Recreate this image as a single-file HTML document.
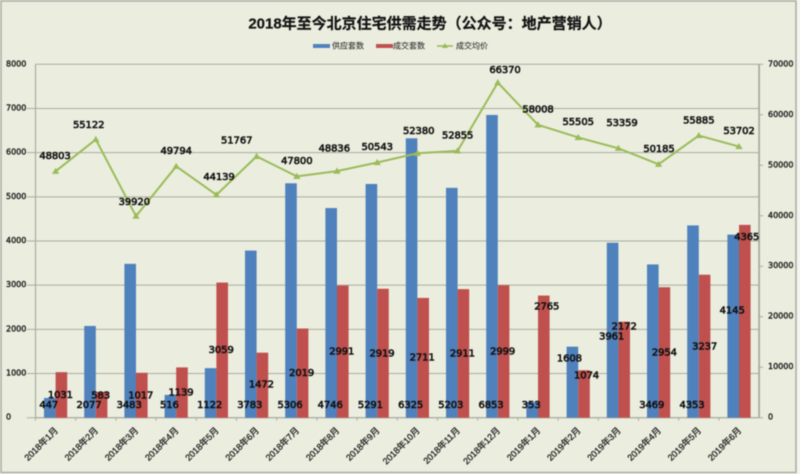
<!DOCTYPE html>
<html>
<head>
<meta charset="utf-8">
<title>2018年至今北京住宅供需走势</title>
<style>
html,body{margin:0;padding:0;background:#f4f5ee;width:800px;height:474px;overflow:hidden}
svg{display:block;filter:blur(0.4px)}
text{font-family:"Liberation Sans","Noto Sans CJK SC",sans-serif}
.val{font-family:"DejaVu Sans",sans-serif;font-size:10px;letter-spacing:-.1px;fill:#111;stroke:#111;stroke-width:.6px;text-anchor:middle;dominant-baseline:central}
.tick{font-family:"DejaVu Sans",sans-serif;font-size:8px;fill:#222;stroke:#222;stroke-width:.4px;dominant-baseline:central}
.cat{font-size:9px;font-weight:400;fill:#222;stroke:#222;stroke-width:.3px;text-anchor:end}
.leg{font-size:8px;fill:#333;stroke:#333;stroke-width:.1px;dominant-baseline:central}
</style>
</head>
<body>
<svg id="chart" xmlns="http://www.w3.org/2000/svg" width="800" height="474" viewBox="0 0 800 474">
  <rect x="1" y="1" width="795" height="471.5" fill="#ebeedf" stroke="#a9aba2" stroke-width="1.5"/>
  <text x="430" y="24" text-anchor="middle" dominant-baseline="central" font-size="15" font-weight="700" fill="#111" stroke="#111" stroke-width=".2">2018年至今北京住宅供需走势（公众号：地产营销人）</text>
  <g>
    <g>
      <rect x="313" y="44" width="17" height="4" fill="#4f81bd"/>
      <text class="leg" x="332" y="46">供应套数</text>
    </g>
    <g>
      <rect x="376" y="44" width="17" height="4" fill="#c0504d"/>
      <text class="leg" x="393" y="46">成交套数</text>
    </g>
    <g>
      <line x1="437" y1="46" x2="453" y2="46" stroke="#9bbb59" stroke-width="1.6"/>
      <polygon points="445,43 448,48 442,48" fill="#9bbb59"/>
      <text class="leg" x="456" y="46">成交均价</text>
    </g>
  </g>
  <g id="plot"></g>
</svg>
<script>
// ---- chart data ----
const categories = ["2018年1月","2018年2月","2018年3月","2018年4月","2018年5月","2018年6月","2018年7月","2018年8月","2018年9月","2018年10月","2018年11月","2018年12月","2019年1月","2019年2月","2019年3月","2019年4月","2019年5月","2019年6月"];
const supplyValues = [447,2077,3483,516,1122,3783,5306,4746,5291,6325,5203,6853,353,1608,3961,3469,4353,4145];
const soldValues = [1031,583,1017,1139,3059,1472,2019,2991,2919,2711,2911,2999,2765,1074,2172,2954,3237,4365];
const priceValues = [48803,55122,39920,49794,44139,51767,47800,48836,50543,52380,52855,66370,58008,55505,53359,50185,55885,53702];
const leftTicks = [0,1000,2000,3000,4000,5000,6000,7000,8000];
const rightTicks = [0,10000,20000,30000,40000,50000,60000,70000];
const leftMax = 8000;
const rightMax = 70000;

// ---- layout ----
const plotLeft = 35.5, plotRight = 759.1, plotTop = 64.3, plotBottom = 417.7;
const step = (plotRight - plotLeft) / categories.length;
const barW = 11.6;
const xCenter = i => plotLeft + step * (i + 0.5);
const yLeft = v => plotBottom - (v / leftMax) * (plotBottom - plotTop);
const yRight = v => plotBottom - (v / rightMax) * (plotBottom - plotTop);

// label placement nudges (layout only, not data)
const supplyLift = [12,12,12,12,12,12,12,12,12,12,12,12,12,58.7,80.7,12,12,106.7];
const soldDrop = [23.5,4,23,25.6,68,32.3,44.8,66.4,65.2,60,64.9,66.8,11.4,5.7,5.2,65.8,72.3,12.8];
const soldShift = [-1,-1,-1,-1,-1,-1,-1,-1,-1,-1,-1,-1,3,2.5,0,0,0,2];
const supplyShift = [-1,-1,-1,-1,-1,-1,-1,-1,-1,-1,-1,-1,-1,-3,-1,-1,-1,-1];
const priceDx = [-0.6,-7.1,-1.7,0,2.6,-19.9,0,-2.7,0,1.3,0,7.2,0,0,3.6,0.4,0,0];
const priceDy = [-14.6,-14.1,-13.5,-15,-17.2,-15.4,-15.1,-22.1,-14.8,-21.6,-14.9,-12,-14.8,-14.8,-25,-15,-14.6,-14.9];

const NS = "http://www.w3.org/2000/svg";
const plot = document.getElementById("plot");
function make(tag, attrs, parent) {
  const el = document.createElementNS(NS, tag);
  for (const k in attrs) el.setAttribute(k, attrs[k]);
  (parent || plot).appendChild(el);
  return el;
}

// gridlines + left axis ticks
leftTicks.forEach(function (t) {
  const y = yLeft(t);
  const g = make("line", {x1: t === leftMax ? plotLeft : 27, x2: plotRight, y1: y, y2: y, stroke: "#a9ab9f", "stroke-width": 1});
  
  
  const lab = make("text", {x: 6, y: y - 0.5, class: "tick"});
  
  
  lab.textContent = t;
});

// right axis ticks
rightTicks.forEach(function (t) {
  const y = yRight(t);
  const g = make("line", {x1: plotRight, x2: plotRight + 4, y1: y, y2: y, stroke: "#a9ab9f", "stroke-width": 1});
  
  
  const lab = make("text", {x: 768, y: y - 0.5, class: "tick"});
  
  
  lab.textContent = t;
});

// axis lines
const leftAxis = make("line", {x1: plotLeft, x2: plotLeft, y1: plotTop, y2: plotBottom, stroke: "#a9ab9f", "stroke-width": 1.2});


const rightAxis = make("line", {x1: plotRight, x2: plotRight, y1: plotTop, y2: plotBottom, stroke: "#a3a59a", "stroke-width": 1.6});



// x ticks
categories.forEach(function (c, i) {
  const x = plotLeft + step * i;
  const t = make("line", {x1: x, x2: x, y1: plotBottom, y2: plotBottom + 3, stroke: "#a9ab9f", "stroke-width": 1});
  
  
});
const baseAxis = make("line", {x1: plotLeft, x2: plotRight, y1: plotBottom, y2: plotBottom, stroke: "#a9ab9f", "stroke-width": 1.2});



// bars
categories.forEach(function (c, i) {
  const cx = xCenter(i);
  const yS = yLeft(supplyValues[i]);
  const b1 = make("rect", {x: cx - barW, y: yS, width: barW, height: plotBottom - yS, fill: "#4f81bd"});
  
  
  const yH = yLeft(soldValues[i]);
  const b2 = make("rect", {x: cx, y: yH, width: barW, height: plotBottom - yH, fill: "#c0504d"});
  
  
});

// price line
const pts = priceValues.map(function (v, i) { return xCenter(i) + "," + yRight(v); }).join(" ");
const priceLine = make("polyline", {points: pts, fill: "none", stroke: "#9bbb59", "stroke-width": 2, "stroke-linejoin": "round"});


priceValues.forEach(function (v, i) {
  const x = xCenter(i), y = yRight(v);
  const m = make("polygon", {points: x + "," + (y - 3.6) + " " + (x + 3.6) + "," + (y + 2.6) + " " + (x - 3.6) + "," + (y + 2.6), fill: "#9bbb59"});
  
  
});

// value labels
categories.forEach(function (c, i) {
  const cx = xCenter(i);
  const l1 = make("text", {x: cx - barW / 2 + supplyShift[i], y: plotBottom - supplyLift[i], class: "val"});
  
  
  l1.textContent = supplyValues[i];
  const l2 = make("text", {x: cx + barW / 2 + soldShift[i], y: yLeft(soldValues[i]) + soldDrop[i], class: "val"});
  
  
  l2.textContent = soldValues[i];
  const l3 = make("text", {x: cx + priceDx[i], y: yRight(priceValues[i]) + priceDy[i], class: "val"});
  
  
  l3.textContent = priceValues[i];
  const ax = cx + 3, ay = 431;
  const cat = make("text", {x: ax, y: ay, class: "cat", transform: "rotate(-45 " + ax + " " + ay + ")"});
  
  
  cat.textContent = c;
});
</script>
</body>
</html>
